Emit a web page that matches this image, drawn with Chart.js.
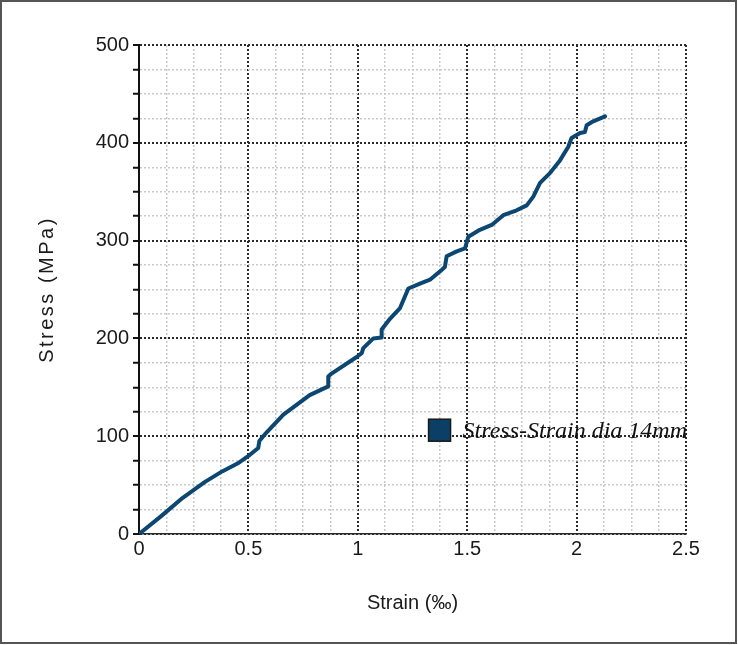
<!DOCTYPE html>
<html>
<head>
<meta charset="utf-8">
<script src="https://cdn.jsdelivr.net/npm/chart.js@4/dist/chart.umd.min.js"></script>
<style>
  html, body { margin: 0; padding: 0; background: #fff; }
  #wrap { width: 738px; height: 645px; position: relative; }
</style>
</head>
<body>
<div id="wrap"><canvas id="c" width="738" height="645"></canvas></div>
<script>
// Stress–strain test record, bar diameter 14 mm
const strain = [0, 0.1, 0.2, 0.3, 0.38, 0.45, 0.507, 0.545, 0.55, 0.568, 0.576, 0.66, 0.78, 0.865, 0.865, 0.88, 0.995, 1.018, 1.025, 1.071, 1.109, 1.109, 1.147, 1.193, 1.231, 1.284, 1.33, 1.383, 1.398, 1.406, 1.452, 1.49, 1.505, 1.558, 1.612, 1.665, 1.726, 1.772, 1.802, 1.833, 1.878, 1.924, 1.962, 1.977, 2.016, 2.038, 2.046, 2.076, 2.13];
const stress = [0, 18, 37, 53, 64, 72, 81, 88, 95, 100, 102, 122, 142, 151, 161, 164, 181, 185, 190, 200, 201, 209, 220, 231, 251, 256, 260, 270, 273, 284, 289, 292, 304, 311, 316, 326, 331, 336, 345, 359, 369, 382, 396, 405, 410, 411, 418, 422, 427];

const seriesName = 'Stress-Strain dia 14mm';
const xTitle = 'Strain (‰)';
const yTitle = 'Stress (MPa)';
const xMajor = 0.5, xMinor = 0.125;
const yMajor = 100, yMinor = 25;

const points = strain.map((s, i) => ({ x: s, y: stress[i] }));
const isMajor = (v, step) => Math.abs(v / step - Math.round(v / step)) < 1e-6;

const lineColor = '#0c4672';
const fontFamily = 'Liberation Sans, Arial, sans-serif';
const tickFont = { family: fontFamily, size: 20 };

// Legend box drawn inside the plot, right-aligned to the plot edge
const insideLegend = {
  id: 'insideLegend',
  afterDatasetsDraw(chart) {
    const { ctx, chartArea, scales } = chart;
    ctx.save();
    ctx.font = 'italic 24px "Liberation Serif", "Times New Roman", serif';
    const tw = ctx.measureText(seriesName).width;
    const textRight = chartArea.right + 1;
    const textX = textRight - tw;
    const baseY = scales.y.getPixelForValue(100) + 2;
    const box = 22;
    const boxX = textX - 12 - box;
    const boxY = baseY - 19;
    ctx.fillStyle = '#0b3f66';
    ctx.fillRect(boxX, boxY, box, box);
    ctx.lineWidth = 1.5;
    ctx.strokeStyle = '#1a1a1a';
    ctx.strokeRect(boxX, boxY, box, box);
    ctx.fillStyle = '#111';
    ctx.textBaseline = 'alphabetic';
    ctx.fillText(seriesName, textX, baseY);
    ctx.restore();
  }
};

// Vertical axis title, letter-spaced, centred on the plot height
const yAxisTitle = {
  id: 'yAxisTitle',
  afterDraw(chart) {
    const { ctx, chartArea } = chart;
    ctx.save();
    ctx.translate(47, (chartArea.top + chartArea.bottom) / 2);
    ctx.rotate(-Math.PI / 2);
    ctx.font = '20px ' + fontFamily;
    if ('letterSpacing' in ctx) ctx.letterSpacing = '2.5px';
    ctx.fillStyle = '#1a1a1a';
    ctx.textAlign = 'center';
    ctx.textBaseline = 'middle';
    ctx.fillText(yTitle, 0, 0);
    ctx.restore();
  }
};

// Gray outer frame around the whole figure
const frame = {
  id: 'frame',
  afterDraw(chart) {
    const { ctx } = chart;
    ctx.save();
    ctx.lineWidth = 2;
    ctx.strokeStyle = '#555';
    ctx.strokeRect(1, 1, 735, 642);
    ctx.restore();
  }
};

new Chart(document.getElementById('c'), {
  type: 'line',
  data: {
    datasets: [{
      label: seriesName,
      data: points,
      borderColor: lineColor,
      backgroundColor: lineColor,
      borderWidth: 4,
      pointRadius: 0,
      tension: 0,
      borderCapStyle: 'round',
      borderJoinStyle: 'round',
      fill: false
    }]
  },
  options: {
    responsive: false,
    animation: false,
    layout: { padding: { top: 45, right: 52, left: 0, bottom: 0 } },
    plugins: { legend: { display: false }, tooltip: { enabled: false } },
    scales: {
      x: {
        type: 'linear',
        min: 0, max: 2.5,
        afterFit(scale) { scale.height = 111; },
        ticks: {
          stepSize: xMinor,
          autoSkip: false,
          maxRotation: 0,
          padding: 3,
          color: '#1a1a1a',
          font: tickFont,
          callback: v => isMajor(v, xMajor) ? String(Math.round(v * 10) / 10) : ''
        },
        grid: {
          drawTicks: false,
          color: c => (c.tick && isMajor(c.tick.value, xMajor)) ? '#2a2a2a' : '#c9c9c9',
          lineWidth: c => (c.tick && isMajor(c.tick.value, xMajor)) ? 2 : 1.5
        },
        border: { color: '#2a2a2a', width: 1.5, dash: [2, 2] },
        title: {
          display: true, text: xTitle, color: '#1a1a1a',
          font: { family: fontFamily, size: 20 }, padding: { top: 0, bottom: 30 }
        }
      },
      y: {
        type: 'linear',
        min: 0, max: 500,
        afterFit(scale) { scale.width = 139; },
        ticks: {
          stepSize: yMinor,
          autoSkip: false,
          padding: 4,
          color: '#1a1a1a',
          font: tickFont,
          callback: v => isMajor(v, yMajor) ? String(v) : ''
        },
        grid: {
          drawTicks: true,
          tickLength: 6,
          tickWidth: 2,
          tickColor: '#111',
          color: c => (c.tick && isMajor(c.tick.value, yMajor)) ? '#2a2a2a' : '#c9c9c9',
          lineWidth: c => (c.tick && isMajor(c.tick.value, yMajor)) ? 2 : 1.5
        },
        border: { color: '#111', width: 2, dash: [2, 2] },
        title: { display: false }
      }
    }
  },
  plugins: [insideLegend, yAxisTitle, frame]
});
</script>
</body>
</html>
